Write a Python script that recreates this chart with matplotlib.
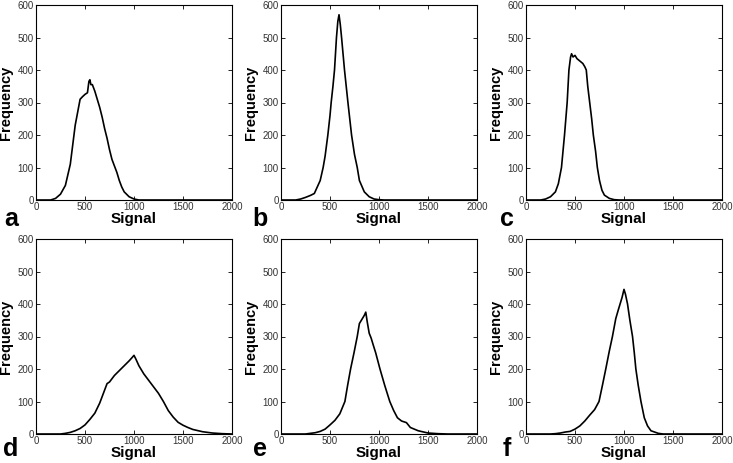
import matplotlib
matplotlib.use("Agg")
import matplotlib.pyplot as plt

plt.rcParams['font.family'] = ['Liberation Sans', 'DejaVu Sans']

# Histogram outlines (signal, frequency)
a_x = [0, 150, 200, 250, 300, 350, 400, 450, 475, 500, 525, 540, 550, 560, 575, 600, 625, 650,
       675, 700, 725, 750, 775, 800, 825, 850, 875, 900, 950, 1000, 1050, 2000]
a_y = [0, 0, 5, 18, 45, 110, 230, 310, 318, 325, 330, 365, 370, 355, 355, 335, 310, 285,
       255, 220, 190, 155, 125, 105, 85, 60, 40, 25, 10, 3, 0, 0]

b_x = [0, 150, 200, 250, 300, 340, 400, 430, 450, 478, 500, 512, 530, 546, 566, 580, 592, 605,
       618, 648, 683, 720, 750, 778, 800, 850, 900, 950, 1000, 1050, 2000]
b_y = [0, 0, 3, 8, 14, 20, 60, 100, 135, 200, 260, 300, 350, 400, 500, 550, 570, 540,
       500, 400, 300, 200, 140, 100, 60, 25, 10, 3, 1, 0, 0]

c_x = [0, 150, 200, 250, 300, 330, 362, 393, 420, 438, 455, 465, 480, 500, 520, 540, 560, 580,
       600, 615, 630, 650, 670, 687, 710, 728, 750, 775, 800, 850, 900, 950, 2000]
c_y = [0, 0, 3, 10, 25, 50, 100, 200, 300, 400, 440, 450, 440, 445, 435, 430, 425, 420,
       410, 400, 350, 300, 250, 200, 150, 100, 60, 30, 15, 5, 1, 0, 0]

d_x = [0, 250, 300, 350, 400, 450, 500, 550, 600, 650, 700, 725, 750, 800, 850, 900, 950, 980,
       1000, 1020, 1050, 1100, 1150, 1200, 1250, 1300, 1350, 1400, 1450, 1500, 1550, 1600,
       1700, 1800, 1900, 2000]
d_y = [0, 0, 2, 5, 10, 17, 28, 45, 64, 95, 135, 155, 160, 180, 195, 210, 225, 235,
       242, 230, 210, 185, 165, 145, 125, 100, 72, 52, 36, 27, 20, 14,
       7, 3, 1, 0]

e_x = [0, 250, 300, 350, 400, 450, 500, 550, 600, 652, 680, 710, 745, 778, 800, 830, 850, 865,
       880, 900, 920, 940, 966, 1010, 1058, 1110, 1150, 1188, 1230, 1280, 1320, 1400, 1500,
       1600, 1700, 2000]
e_y = [0, 0, 2, 4, 8, 15, 28, 42, 62, 100, 150, 200, 250, 300, 340, 355, 365, 375,
       345, 310, 295, 275, 250, 200, 150, 100, 72, 50, 40, 35, 20, 10, 3,
       1, 0, 0]

f_x = [0, 250, 300, 350, 400, 450, 500, 550, 600, 650, 700, 745, 780, 814, 850, 882, 916, 940,
       960, 980, 1000, 1015, 1036, 1060, 1087, 1105, 1121, 1145, 1173, 1207, 1240, 1275, 1350,
       1400, 2000]
f_y = [0, 0, 1, 3, 6, 8, 15, 25, 40, 58, 75, 100, 150, 200, 255, 300, 355, 380,
       400, 420, 445, 430, 400, 350, 300, 250, 200, 150, 100, 50, 25, 10, 2,
       0, 0]

letters = ['a', 'b', 'c', 'd', 'e', 'f']
series = [(a_x, a_y), (b_x, b_y), (c_x, c_y), (d_x, d_y), (e_x, e_y), (f_x, f_y)]

W, H = 733, 463
fig = plt.figure(figsize=(W / 100, H / 100), dpi=100)

# panel boxes in pixels: left, top
lefts = [36, 281, 526]
tops = [5, 239]
pw, ph = 196, 195
letter_x = [11, 260, 507]
letter_y = [219, 449]

for i, (xs, ys) in enumerate(series):
    r, c = divmod(i, 3)
    ax = fig.add_axes([lefts[c] / W, (H - tops[r] - ph) / H, pw / W, ph / H])
    ax.plot(xs, ys, color='black', lw=1.2)
    ax.set_xlim(0, 2000)
    ax.set_ylim(0, 600)
    ax.set_xticks([0, 500, 1000, 1500, 2000])
    ax.set_yticks([0, 100, 200, 300, 400, 500, 600])
    ax.tick_params(direction='in', top=True, right=True, length=3, width=0.6,
                   labelsize=7, labelcolor='#333333', pad=1.5)
    for s in ax.spines.values():
        s.set_linewidth(0.8)
    ax.set_xlabel('Signal', fontsize=11, fontweight='bold')
    ax.set_ylabel('Frequency', fontsize=10.5, fontweight='bold')
    ax.xaxis.set_label_coords(0.5, -0.062)
    ax.yaxis.set_label_coords(-0.115, 0.5)
    fig.text(letter_x[c] / W, 1 - letter_y[r] / H, letters[i], fontsize=18,
             fontweight='bold', ha='center', va='center')

fig.savefig('out.png', dpi=100)
